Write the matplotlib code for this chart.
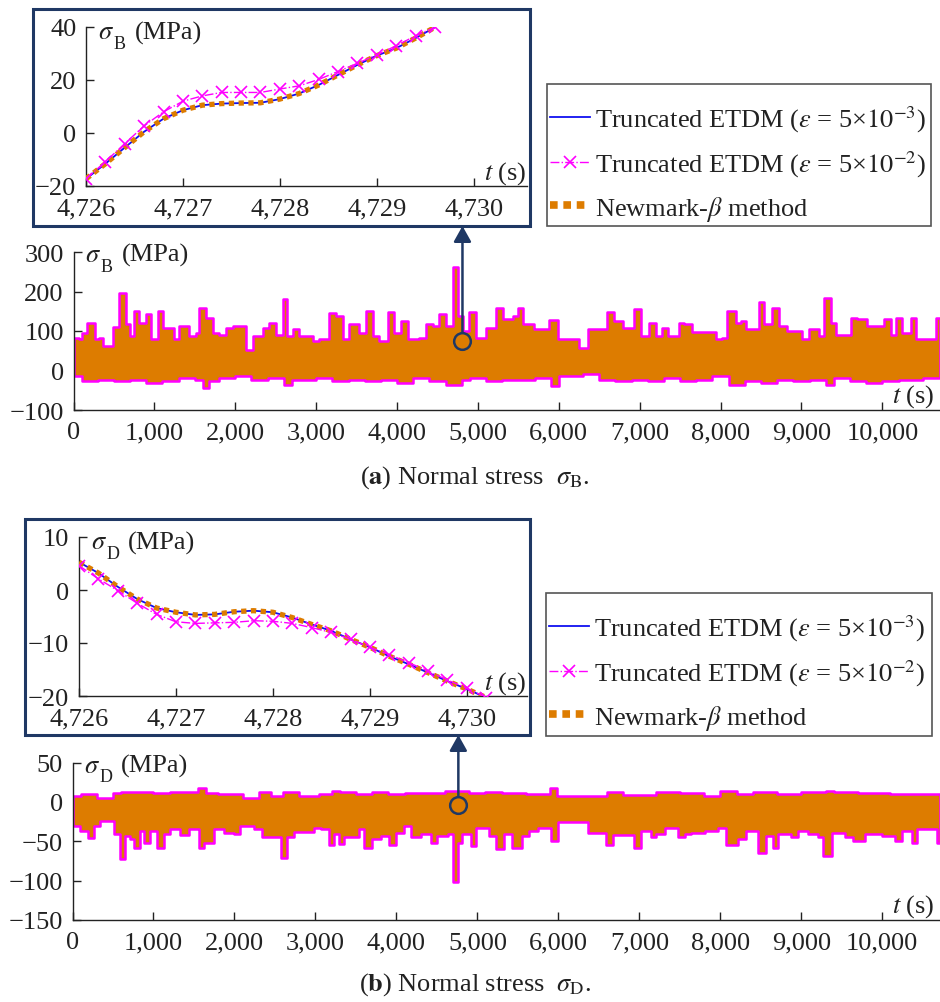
import numpy as np
import matplotlib
matplotlib.use("Agg")
import matplotlib.pyplot as plt
from matplotlib.patches import Rectangle
from matplotlib.lines import Line2D
from matplotlib.ticker import FuncFormatter

plt.rcParams['font.family'] = ['Liberation Serif', 'DejaVu Serif']
plt.rcParams['mathtext.fontset'] = 'stix'
plt.rcParams['font.size'] = 19
plt.rcParams['axes.unicode_minus'] = True

# ---------------- data ----------------
# Panel (a): envelope of sigma_B (segment start time, value)
a_up_t = [0, 74, 107, 165, 260, 321, 362, 486, 568, 643, 700, 754, 815, 898, 960, 1042, 1104, 1248,
          1310, 1433, 1516, 1557, 1639, 1722, 1804, 1886, 1969, 2133, 2216, 2339, 2422, 2504, 2586,
          2636, 2710, 2792, 2957, 3040, 3163, 3245, 3328, 3410, 3534, 3616, 3698, 3781, 3884, 3966,
          4049, 4131, 4275, 4358, 4440, 4522, 4605, 4687, 4749, 4811, 4893, 4975, 5099, 5223, 5305,
          5428, 5490, 5552, 5696, 5882, 5985, 6252, 6355, 6602, 6685, 6788, 6932, 7014, 7117, 7200,
          7282, 7344, 7488, 7550, 7653, 7941, 8023, 8085, 8188, 8250, 8312, 8477, 8538, 8641, 8724,
          8827, 9012, 9094, 9218, 9280, 9362, 9424, 9610, 9692, 9815, 10021, 10103, 10165, 10248,
          10351, 10413, 10660]
a_up_v = [83, 79, 96, 121, 79, 83, 62, 111, 197, 117, 87, 151, 121, 142, 79, 151, 108, 79,
          113, 87, 96, 159, 134, 96, 91, 108, 113, 53, 87, 108, 121, 91, 182,
          87, 104, 87, 75, 79, 145, 138, 79, 117, 96, 151, 87, 75, 148, 96,
          125, 79, 83, 117, 113, 142, 113, 261, 138, 100, 148, 83, 108, 159, 130,
          138, 159, 117, 104, 128, 80, 58, 106, 147, 125, 108, 155, 87, 121, 87,
          108, 87, 121, 117, 98, 79, 83, 151, 121, 125, 104, 174, 117, 159, 113,
          100, 79, 104, 87, 184, 121, 91, 134, 130, 113, 130, 91, 134, 96,
          134, 81, 134]
a_lo_t = [0, 100, 300, 500, 700, 900, 1100, 1300, 1500, 1600, 1680, 1800, 2000, 2200, 2400, 2600,
          2700, 3000, 3200, 3400, 3600, 3800, 4000, 4200, 4400, 4600, 4800, 4900, 5100, 5300, 5700,
          5900, 6000, 6300, 6500, 6700, 6900, 7100, 7300, 7500, 7700, 7900, 8100, 8300, 8500, 8700,
          8900, 9100, 9300, 9400, 9600, 9800, 10000, 10200, 10500]
a_lo_v = [-14, -27, -23, -27, -23, -31, -27, -19, -23, -44, -27, -19, -14, -23, -19, -36,
          -23, -19, -27, -23, -27, -23, -31, -19, -27, -36, -23, -19, -27, -23, -19,
          -40, -14, -10, -23, -27, -23, -27, -19, -27, -23, -14, -36, -27, -31, -23,
          -27, -23, -36, -19, -27, -31, -27, -23, -19]

# Panel (b): envelope of sigma_D
b_up_t = [0, 100, 300, 500, 600, 800, 1000, 1200, 1550, 1650, 1800, 2100, 2300, 2450, 2600, 2800,
          3050, 3200, 3300, 3500, 3700, 3900, 4100, 4600, 4900, 5100, 5300, 5600, 5900, 5980, 6300,
          6600, 6800, 7200, 7500, 7800, 8000, 8200, 8400, 8700, 9000, 9300, 9400, 9700, 10100]
b_up_v = [8, 10, 5, 11, 12, 13, 11, 12, 17, 11, 10, 5, 12, 8, 12, 8,
          10, 14, 12, 10, 12, 10, 11, 14, 11, 12, 11, 10, 18, 7, 8,
          12, 8.5, 12, 11, 8, 14, 10, 12, 10, 12, 14, 12, 11, 10]
b_lo_t = [0, 95, 186, 268, 342, 507, 590, 652, 713, 755, 829, 878, 961, 1043, 1126, 1208, 1332,
          1435, 1559, 1629, 1744, 1868, 1992, 2074, 2239, 2342, 2569, 2652, 2734, 2981, 3064, 3167,
          3229, 3291, 3353, 3538, 3600, 3703, 3806, 3909, 3992, 4095, 4177, 4301, 4425, 4507, 4631,
          4693, 4755, 4816, 4917, 4979, 5144, 5227, 5330, 5433, 5557, 5640, 5743, 5908, 5990, 6362,
          6589, 6671, 6940, 7022, 7146, 7208, 7311, 7476, 7559, 7641, 7806, 7971, 8075, 8219, 8322,
          8467, 8570, 8652, 8714, 8879, 8962, 9086, 9210, 9271, 9375, 9540, 9643, 9788, 9994, 10159,
          10241, 10365, 10427, 10675]
b_lo_v = [-31, -37, -46, -31, -24, -41, -73, -43, -47, -58, -37, -52, -37, -58, -41, -35, -42,
          -35, -59, -52, -35, -39, -41, -31, -35, -44, -71, -45, -38, -33, -35, -55,
          -41, -54, -45, -35, -59, -47, -43, -55, -39, -31, -45, -41, -52, -43, -41,
          -102, -52, -41, -56, -33, -43, -60, -41, -59, -43, -37, -33, -50, -26, -39,
          -55, -42, -59, -37, -45, -41, -33, -45, -41, -39, -37, -33, -55, -47, -37,
          -65, -43, -59, -41, -45, -37, -41, -45, -69, -39, -45, -50, -41, -43, -50,
          -37, -52, -35, -52]

# Inset (a): zoom 4726-4730 s
ta = [4726.0, 4726.2, 4726.4, 4726.6, 4726.8, 4727.0, 4727.2, 4727.4, 4727.6, 4727.8,
      4728.0, 4728.2, 4728.4, 4728.6, 4728.8, 4729.0, 4729.2, 4729.4, 4729.6]
a_etdm3 = [-17.3, -11.6, -5.5, 0.5, 5.4, 8.6, 10.5, 11.1, 11.3, 11.4,
           12.8, 14.9, 18.1, 21.9, 25.7, 29.2, 32.0, 35.8, 39.9]
a_etdm2 = [-17.3, -10.8, -4.0, 2.7, 8.0, 12.0, 14.0, 15.3, 15.3, 15.3,
           16.6, 17.8, 20.2, 23.2, 26.3, 29.5, 32.9, 36.7, 39.9]
a_newmark = [-17.3, -11.6, -5.5, 0.5, 5.4, 8.6, 10.5, 11.1, 11.3, 11.4,
             12.8, 14.9, 18.1, 21.9, 25.7, 29.2, 32.0, 35.8, 39.9]

# Inset (b)
tb = [4726.0, 4726.2, 4726.4, 4726.6, 4726.8, 4727.0, 4727.2, 4727.4, 4727.6, 4727.8,
      4728.0, 4728.2, 4728.4, 4728.6, 4728.8, 4729.0, 4729.2, 4729.4, 4729.6, 4729.8,
      4730.0, 4730.2]
b_etdm3 = [5.25, 3.2, 0.6, -1.7, -3.4, -4.2, -4.7, -4.6, -4.1, -3.9,
           -4.2, -5.2, -6.5, -7.7, -9.3, -10.8, -12.5, -14.0, -15.6, -17.2,
           -18.7, -20.3]
b_etdm2 = [4.6, 2.1, -0.1, -2.5, -4.6, -6.0, -6.3, -6.2, -6.1, -5.8,
           -5.9, -6.3, -7.1, -8.0, -9.3, -10.8, -12.2, -13.7, -15.3, -17.0,
           -18.5, -20.3]
b_newmark = [5.25, 3.2, 0.6, -1.7, -3.4, -4.2, -4.7, -4.6, -4.1, -3.9,
             -4.2, -5.2, -6.5, -7.7, -9.3, -10.8, -12.5, -14.0, -15.6, -17.2,
             -18.7, -20.3]

labels = [r"Truncated ETDM ($\varepsilon$ = 5×$10^{-3}$)",
          r"Truncated ETDM ($\varepsilon$ = 5×$10^{-2}$)",
          r"Newmark-$\beta$ method"]

main_xticks = [0, 1000, 2000, 3000, 4000, 5000, 6000, 7000, 8000, 9000, 10000]
inset_xticks = [4726, 4727, 4728, 4729, 4730]

# ---------------- style ----------------
W, H = 940, 1003
BLUE = '#1010F0'
MAG = '#FF00FF'
ORG = '#DD7C00'
NAVY = '#1F3864'
TXT = '#222222'

fig = plt.figure(figsize=(W / 100, H / 100), dpi=100)


def fbox(l, t, r, b):
    return [l / W, 1 - b / H, (r - l) / W, (b - t) / H]


comma = FuncFormatter(lambda x, p: f"{x:,.0f}")


def style_axes(ax):
    for s in ['top', 'right']:
        ax.spines[s].set_visible(False)
    for s in ['left', 'bottom']:
        ax.spines[s].set_linewidth(1.0)
        ax.spines[s].set_color('#222222')
    ax.tick_params(direction='in', length=6, width=1, colors='#222222',
                   labelcolor=TXT, labelsize=19)
    ax.tick_params(axis='x', pad=8)
    ax.tick_params(axis='y', pad=7)
    ax.xaxis.set_major_formatter(comma)


def ylabel_top(ax, sub, dx, dy):
    """sigma with a large, low subscript, then (MPa), anchored at top-left of the axes."""
    kw = dict(xy=(0, 1), xycoords='axes fraction', textcoords='offset points',
              ha='left', va='baseline', color=TXT)
    ax.annotate(r"$\sigma$", xytext=(dx, dy), fontsize=19, **kw)
    ax.annotate(sub, xytext=(dx + 11.5, dy - 7), fontsize=13, **kw)
    ax.annotate("(MPa)", xytext=(dx + 27, dy), fontsize=19, **kw)


def band(ax, t_up, v_up, t_lo, v_lo, t_end):
    x = np.union1d(t_up, t_lo)
    x = np.append(x, t_end)
    up = np.asarray(v_up, float)[np.searchsorted(t_up, x, side='right') - 1]
    lo = np.asarray(v_lo, float)[np.searchsorted(t_lo, x, side='right') - 1]
    ax.fill_between(x, lo, up, step='post', facecolor=ORG, edgecolor=MAG,
                    linewidth=1.8, zorder=2)


def main_panel(box, ylim, yticks, t_up, v_up, t_lo, v_lo, sub, circ, frame_bottom_px):
    ax = fig.add_axes(fbox(*box))
    style_axes(ax)
    band(ax, t_up, v_up, t_lo, v_lo, 10713)
    ax.set_xlim(0, 10713)
    ax.set_ylim(*ylim)
    ax.set_xticks(main_xticks)
    ax.set_yticks(yticks)
    ylabel_top(ax, sub, 8, -6.5)
    ax.annotate(r"$t$ (s)", xy=(1, 0), xycoords='axes fraction',
                xytext=(-4, 6), textcoords='offset points', ha='right', va='baseline',
                fontsize=19, color=TXT)
    # circle + arrow to inset
    ax.plot([circ[0]], [circ[1]], 'o', mfc='none', mec=NAVY, ms=12, mew=1.8, zorder=6, clip_on=False)
    ax.annotate('', xy=(circ[0], 1 - frame_bottom_px / H), xycoords=('data', 'figure fraction'),
                xytext=circ, textcoords='data', annotation_clip=False,
                arrowprops=dict(arrowstyle='-|>,head_length=0.5,head_width=0.28',
                                mutation_scale=19, color=NAVY, lw=1.8,
                                shrinkA=6.5, shrinkB=0), zorder=6)
    return ax


def inset(frame, box, xlim, ylim, yticks, t, v3, v2, vn, sub):
    fl, ft, fr, fb = frame
    fig.add_artist(Rectangle((fl / W, 1 - fb / H), (fr - fl) / W, (fb - ft) / H,
                             transform=fig.transFigure, facecolor='white', edgecolor=NAVY,
                             linewidth=2.2, zorder=0.5))
    ax = fig.add_axes(fbox(*box))
    ax.set_zorder(1)
    ax.patch.set_alpha(0)
    style_axes(ax)
    ax.plot(t, v3, '-', color=BLUE, lw=1.3, zorder=2)
    ax.plot(t, vn, color=ORG, lw=3.8, linestyle=(0, (1, 0.85)), zorder=3)
    ax.plot(t, v2, color=MAG, lw=1.0, linestyle='-.', marker='x', ms=8.5, mew=1.2, zorder=4)
    ax.set_xlim(*xlim)
    ax.set_ylim(*ylim)
    ax.set_xticks(inset_xticks)
    ax.set_yticks(yticks)
    ylabel_top(ax, sub, 8.5, -8)
    ax.annotate(r"$t$ (s)", xy=(1, 0), xycoords='axes fraction',
                xytext=(0, 5.5), textcoords='offset points', ha='right', va='baseline',
                fontsize=19, color=TXT)


def legend(box):
    l, t, r, b = box
    fig.add_artist(Rectangle((l / W, 1 - b / H), (r - l) / W, (b - t) / H,
                             transform=fig.transFigure, facecolor='white', edgecolor='#555555',
                             linewidth=1.2, zorder=4))
    handles = [Line2D([], [], color=BLUE, lw=1.3),
               Line2D([], [], color=MAG, lw=1.0, linestyle='-.', marker='x', ms=8.5, mew=1.2),
               Line2D([], [], color=ORG, lw=5.5, linestyle=(0, (1, 0.75)))]
    leg = fig.legend(handles, labels, loc='upper left',
                     bbox_to_anchor=((l - 1) / W, 1 - (t + 15) / H),
                     fontsize=19, frameon=False, borderpad=0.15, labelspacing=0.56,
                     handlelength=1.5, handletextpad=0.2, borderaxespad=0, numpoints=1)
    for txt in leg.get_texts():
        txt.set_color(TXT)
    leg.set_zorder(5)
    return leg


# ---- panel (a)
main_panel((73.5, 253, 940, 411), (-100, 300), [-100, 0, 100, 200, 300],
           a_up_t, a_up_v, a_lo_t, a_lo_v, 'B', (4809, 74), 227)
inset((33, 10, 530, 227), (86, 28, 527, 187), (4726, 4730.55), (-20, 40), [-20, 0, 20, 40],
      ta, a_etdm3, a_etdm2, a_newmark, 'B')
legend((547, 85, 931, 227))
fig.text(475 / W, 1 - 484 / H, r"($\mathbf{a}$) Normal stress  $\sigma_{\mathrm{B}}$.",
         ha='center', va='baseline', fontsize=19, color=TXT)

# ---- panel (b)
main_panel((72.5, 763.5, 940, 921), (-150, 50), [-150, -100, -50, 0, 50],
           b_up_t, b_up_v, b_lo_t, b_lo_v, 'D', (4765, -4), 736)
inset((25, 520, 530, 736), (79, 538, 527, 697), (4726, 4730.62), (-20, 10), [-20, -10, 0, 10],
      tb, b_etdm3, b_etdm2, b_newmark, 'D')
legend((546, 594, 932, 737))
fig.text(475 / W, 1 - 991 / H, r"($\mathbf{b}$) Normal stress  $\sigma_{\mathrm{D}}$.",
         ha='center', va='baseline', fontsize=19, color=TXT)

fig.savefig('out.png', dpi=100)
